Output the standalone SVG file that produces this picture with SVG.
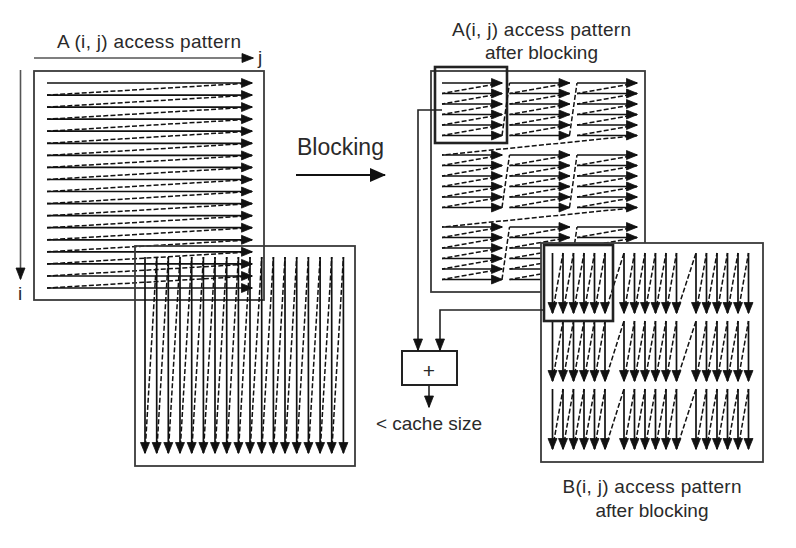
<svg xmlns="http://www.w3.org/2000/svg" width="796" height="548" viewBox="0 0 796 548">
<style>
text{font-family:"Liberation Sans",Arial,sans-serif;fill:#2a2a2a;font-size:19px}
.box{fill:none;stroke:#3a3a3a;stroke-width:1.8}
.hl{fill:none;stroke:#222;stroke-width:2.6}
.s{fill:none;stroke:#111;stroke-width:1.7;marker-end:url(#ah)}
.d{fill:none;stroke:#111;stroke-width:1.5;stroke-dasharray:5 2.2}
.ax{fill:none;stroke:#555;stroke-width:1.6;marker-end:url(#ahl)}
.cn{fill:none;stroke:#222;stroke-width:1.6;marker-end:url(#ahc)}
.mh{fill:#111;stroke:#111;stroke-width:0.8;stroke-linejoin:round}
</style>
<defs>
<marker id="ah" markerUnits="userSpaceOnUse" markerWidth="12" markerHeight="11" refX="10.5" refY="5" orient="auto" overflow="visible"><path class="mh" d="M0,0.5 L11,5 L0,9.5 z"/></marker>
<marker id="ahl" markerUnits="userSpaceOnUse" markerWidth="12" markerHeight="10" refX="11" refY="4.5" orient="auto" overflow="visible"><path class="mh" d="M0,0 L11.5,4.5 L0,9 z"/></marker>
<marker id="ahc" markerUnits="userSpaceOnUse" markerWidth="12" markerHeight="10" refX="11" refY="4.5" orient="auto" overflow="visible"><path class="mh" d="M0,0 L11.5,4.5 L0,9 z"/></marker>
<marker id="ahb" markerUnits="userSpaceOnUse" markerWidth="16" markerHeight="14" refX="15" refY="7" orient="auto" overflow="visible"><path d="M0,0 L16,7 L0,14 z" fill="#111"/></marker>
</defs>

<g id="matA">
<text x="149" y="48" text-anchor="middle" textLength="184" lengthAdjust="spacing">A (i, j) access pattern</text>
<path class="ax" d="M34 58 H253"/>
<text x="260" y="64" text-anchor="middle">j</text>
<path class="ax" d="M20.5 70 V279"/>
<text x="20" y="300" text-anchor="middle">i</text>
<rect class="box" x="34" y="71" width="230" height="229"/>
<path class="s" d="M47 83H252"/>
<path class="s" d="M47 95.1H252"/>
<path class="s" d="M47 107.1H252"/>
<path class="s" d="M47 119.2H252"/>
<path class="s" d="M47 131.2H252"/>
<path class="s" d="M47 143.3H252"/>
<path class="s" d="M47 155.4H252"/>
<path class="s" d="M47 167.4H252"/>
<path class="s" d="M47 179.5H252"/>
<path class="s" d="M47 191.5H252"/>
<path class="s" d="M47 203.6H252"/>
<path class="s" d="M47 215.7H252"/>
<path class="s" d="M47 227.7H252"/>
<path class="s" d="M47 239.8H252"/>
<path class="s" d="M47 251.8H252"/>
<path class="s" d="M47 263.9H252"/>
<path class="s" d="M47 276H252"/>
<path class="s" d="M47 288H252"/>
<path class="d" d="M252 83L47 95.1M252 95.1L47 107.1M252 107.1L47 119.2M252 119.2L47 131.2M252 131.2L47 143.3M252 143.3L47 155.4M252 155.4L47 167.4M252 167.4L47 179.5M252 179.5L47 191.5M252 191.5L47 203.6M252 203.6L47 215.7M252 215.7L47 227.7M252 227.7L47 239.8M252 239.8L47 251.8M252 251.8L47 263.9M252 263.9L47 276M252 276L47 288"/>
</g>

<g id="matB">
<rect class="box" x="135" y="246" width="220" height="220"/>
<path class="s" d="M145 257V453"/>
<path class="s" d="M156.7 257V453"/>
<path class="s" d="M168.3 257V453"/>
<path class="s" d="M180 257V453"/>
<path class="s" d="M191.7 257V453"/>
<path class="s" d="M203.4 257V453"/>
<path class="s" d="M215 257V453"/>
<path class="s" d="M226.7 257V453"/>
<path class="s" d="M238.4 257V453"/>
<path class="s" d="M250 257V453"/>
<path class="s" d="M261.7 257V453"/>
<path class="s" d="M273.4 257V453"/>
<path class="s" d="M285 257V453"/>
<path class="s" d="M296.7 257V453"/>
<path class="s" d="M308.4 257V453"/>
<path class="s" d="M320.1 257V453"/>
<path class="s" d="M331.7 257V453"/>
<path class="s" d="M343.4 257V453"/>
<path class="d" d="M145 453L156.7 257M156.7 453L168.3 257M168.3 453L180 257M180 453L191.7 257M191.7 453L203.4 257M203.4 453L215 257M215 453L226.7 257M226.7 453L238.4 257M238.4 453L250 257M250 453L261.7 257M261.7 453L273.4 257M273.4 453L285 257M285 453L296.7 257M296.7 453L308.4 257M308.4 453L320.1 257M320.1 453L331.7 257M331.7 453L343.4 257"/>
</g>

<g id="blocking">
<text x="297" y="155" style="font-size:23px">Blocking</text>
</g>

<g id="blockedA">
<text x="541.5" y="36" text-anchor="middle" textLength="179" lengthAdjust="spacing">A(i, j) access pattern</text>
<text x="541.5" y="59" text-anchor="middle">after blocking</text>
<rect class="box" x="431" y="71" width="214" height="221"/>
<rect class="hl" x="435" y="67" width="72" height="76"/>
<path class="s" d="M442 83H502"/><path class="s" d="M442 93.5H502"/><path class="s" d="M442 104H502"/><path class="s" d="M442 114.5H502"/><path class="s" d="M442 125H502"/><path class="s" d="M442 135.5H502"/>
<path class="s" d="M509.5 83H569.5"/><path class="s" d="M509.5 93.5H569.5"/><path class="s" d="M509.5 104H569.5"/><path class="s" d="M509.5 114.5H569.5"/><path class="s" d="M509.5 125H569.5"/><path class="s" d="M509.5 135.5H569.5"/>
<path class="s" d="M577 83H637"/><path class="s" d="M577 93.5H637"/><path class="s" d="M577 104H637"/><path class="s" d="M577 114.5H637"/><path class="s" d="M577 125H637"/><path class="s" d="M577 135.5H637"/>
<path class="s" d="M442 155H502"/><path class="s" d="M442 165.5H502"/><path class="s" d="M442 176H502"/><path class="s" d="M442 186.5H502"/><path class="s" d="M442 197H502"/><path class="s" d="M442 207.5H502"/>
<path class="s" d="M509.5 155H569.5"/><path class="s" d="M509.5 165.5H569.5"/><path class="s" d="M509.5 176H569.5"/><path class="s" d="M509.5 186.5H569.5"/><path class="s" d="M509.5 197H569.5"/><path class="s" d="M509.5 207.5H569.5"/>
<path class="s" d="M577 155H637"/><path class="s" d="M577 165.5H637"/><path class="s" d="M577 176H637"/><path class="s" d="M577 186.5H637"/><path class="s" d="M577 197H637"/><path class="s" d="M577 207.5H637"/>
<path class="s" d="M442 227H502"/><path class="s" d="M442 237.5H502"/><path class="s" d="M442 248H502"/><path class="s" d="M442 258.5H502"/><path class="s" d="M442 269H502"/><path class="s" d="M442 279.5H502"/>
<path class="s" d="M509.5 227H569.5"/><path class="s" d="M509.5 237.5H569.5"/><path class="s" d="M509.5 248H569.5"/><path class="s" d="M509.5 258.5H569.5"/><path class="s" d="M509.5 269H569.5"/><path class="s" d="M509.5 279.5H569.5"/>
<path class="s" d="M577 227H637"/><path class="s" d="M577 237.5H637"/><path class="s" d="M577 248H637"/><path class="s" d="M577 258.5H637"/><path class="s" d="M577 269H637"/><path class="s" d="M577 279.5H637"/>
<path class="d" d="M502 83L442 93.5M502 93.5L442 104M502 104L442 114.5M502 114.5L442 125M502 125L442 135.5M502 135.5L509.5 83
M569.5 83L509.5 93.5M569.5 93.5L509.5 104M569.5 104L509.5 114.5M569.5 114.5L509.5 125M569.5 125L509.5 135.5M569.5 135.5L577 83
M637 83L577 93.5M637 93.5L577 104M637 104L577 114.5M637 114.5L577 125M637 125L577 135.5M637 135.5L442 155
M502 155L442 165.5M502 165.5L442 176M502 176L442 186.5M502 186.5L442 197M502 197L442 207.5M502 207.5L509.5 155
M569.5 155L509.5 165.5M569.5 165.5L509.5 176M569.5 176L509.5 186.5M569.5 186.5L509.5 197M569.5 197L509.5 207.5M569.5 207.5L577 155
M637 155L577 165.5M637 165.5L577 176M637 176L577 186.5M637 186.5L577 197M637 197L577 207.5M637 207.5L442 227
M502 227L442 237.5M502 237.5L442 248M502 248L442 258.5M502 258.5L442 269M502 269L442 279.5M502 279.5L509.5 227
M569.5 227L509.5 237.5M569.5 237.5L509.5 248M569.5 248L509.5 258.5M569.5 258.5L509.5 269M569.5 269L509.5 279.5M569.5 279.5L577 227
M637 227L577 237.5M637 237.5L577 248M637 248L577 258.5M637 258.5L577 269M637 269L577 279.5"/>
</g>

<g id="blockedB">
<rect class="box" x="541" y="243" width="222" height="219" style="fill:#fff"/>
<path class="s" d="M552.5 253V313"/><path class="s" d="M563 253V313"/><path class="s" d="M573.5 253V313"/><path class="s" d="M584 253V313"/><path class="s" d="M594.5 253V313"/><path class="s" d="M605 253V313"/>
<path class="s" d="M624 253V313"/><path class="s" d="M634.5 253V313"/><path class="s" d="M645 253V313"/><path class="s" d="M655.5 253V313"/><path class="s" d="M666 253V313"/><path class="s" d="M676.5 253V313"/>
<path class="s" d="M696 253V313"/><path class="s" d="M706.5 253V313"/><path class="s" d="M717 253V313"/><path class="s" d="M727.5 253V313"/><path class="s" d="M738 253V313"/><path class="s" d="M748.5 253V313"/>
<path class="s" d="M552.5 321V381"/><path class="s" d="M563 321V381"/><path class="s" d="M573.5 321V381"/><path class="s" d="M584 321V381"/><path class="s" d="M594.5 321V381"/><path class="s" d="M605 321V381"/>
<path class="s" d="M624 321V381"/><path class="s" d="M634.5 321V381"/><path class="s" d="M645 321V381"/><path class="s" d="M655.5 321V381"/><path class="s" d="M666 321V381"/><path class="s" d="M676.5 321V381"/>
<path class="s" d="M696 321V381"/><path class="s" d="M706.5 321V381"/><path class="s" d="M717 321V381"/><path class="s" d="M727.5 321V381"/><path class="s" d="M738 321V381"/><path class="s" d="M748.5 321V381"/>
<path class="s" d="M552.5 389V449"/><path class="s" d="M563 389V449"/><path class="s" d="M573.5 389V449"/><path class="s" d="M584 389V449"/><path class="s" d="M594.5 389V449"/><path class="s" d="M605 389V449"/>
<path class="s" d="M624 389V449"/><path class="s" d="M634.5 389V449"/><path class="s" d="M645 389V449"/><path class="s" d="M655.5 389V449"/><path class="s" d="M666 389V449"/><path class="s" d="M676.5 389V449"/>
<path class="s" d="M696 389V449"/><path class="s" d="M706.5 389V449"/><path class="s" d="M717 389V449"/><path class="s" d="M727.5 389V449"/><path class="s" d="M738 389V449"/><path class="s" d="M748.5 389V449"/>
<path class="d" d="M552.5 313L563 253M563 313L573.5 253M573.5 313L584 253M584 313L594.5 253M594.5 313L605 253M605 313L624 253
M624 313L634.5 253M634.5 313L645 253M645 313L655.5 253M655.5 313L666 253M666 313L676.5 253M676.5 313L696 253
M696 313L706.5 253M706.5 313L717 253M717 313L727.5 253M727.5 313L738 253M738 313L748.5 253
M552.5 381L563 321M563 381L573.5 321M573.5 381L584 321M584 381L594.5 321M594.5 381L605 321M605 381L624 321
M624 381L634.5 321M634.5 381L645 321M645 381L655.5 321M655.5 381L666 321M666 381L676.5 321M676.5 381L696 321
M696 381L706.5 321M706.5 381L717 321M717 381L727.5 321M727.5 381L738 321M738 381L748.5 321
M552.5 449L563 389M563 449L573.5 389M573.5 449L584 389M584 449L594.5 389M594.5 449L605 389M605 449L624 389
M624 449L634.5 389M634.5 449L645 389M645 449L655.5 389M655.5 449L666 389M666 449L676.5 389M676.5 449L696 389
M696 449L706.5 389M706.5 449L717 389M717 449L727.5 389M727.5 449L738 389M738 449L748.5 389"/>
<rect class="hl" x="544" y="245" width="69" height="76"/>
<text x="652" y="493" text-anchor="middle" textLength="179" lengthAdjust="spacing">B(i, j) access pattern</text>
<text x="652" y="517" text-anchor="middle">after blocking</text>
</g>

<g id="adder">
<rect class="box" x="402" y="351" width="55" height="34" style="stroke:#222;stroke-width:2"/>
<text x="429" y="378" text-anchor="middle" style="font-size:21px">+</text>
<text x="429" y="430" text-anchor="middle">&lt; cache size</text>
</g>

<g id="connectors">
<path d="M296 175H385" style="fill:none;stroke:#111;stroke-width:2.2;marker-end:url(#ahb)"/>
<path class="cn" d="M442 110H418V350"/>
<path class="cn" d="M544 310H440V350"/>
<path class="cn" d="M429 385V407"/>
</g>
</svg>
